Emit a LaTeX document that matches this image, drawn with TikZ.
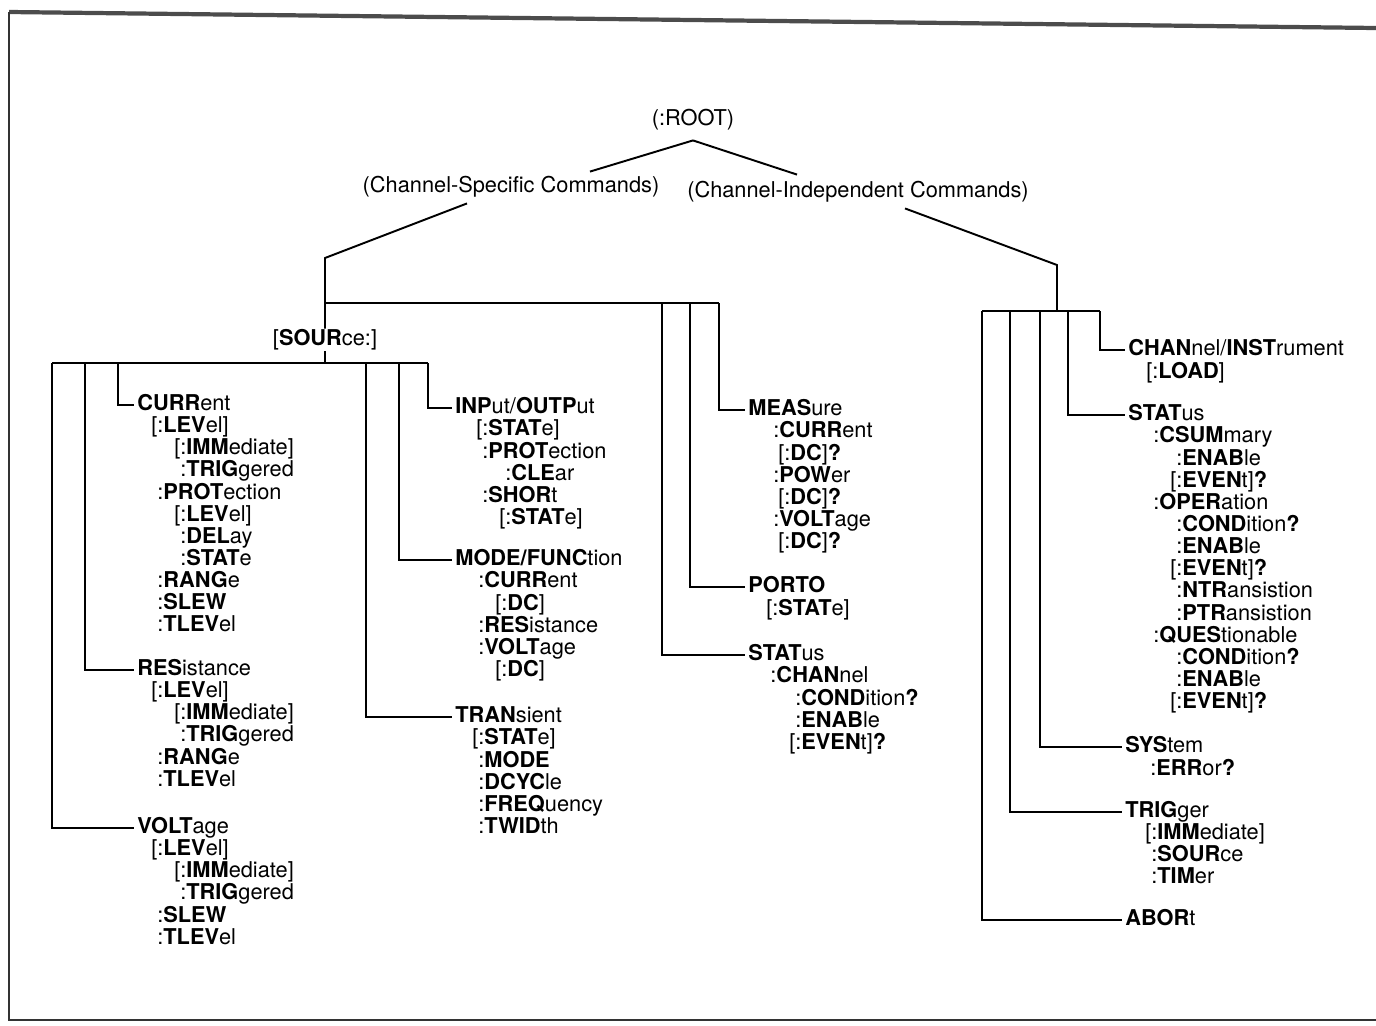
\documentclass[tikz,border=0pt]{standalone}
\usepackage{fontspec}
\setmainfont{TeX Gyre Heros}
\usetikzlibrary{positioning}

\newcommand\lbr{\llap{[}}
\newcommand\ind[1][0.46cm]{\hspace*{#1}}

\begin{document}
\begin{tikzpicture}[x=0.02cm, y=-0.02cm,
  every node/.style={font=\fontsize{12.4}{12.6}\selectfont, inner sep=0pt},
  title/.style={text height=9.6pt, text depth=3pt},
  cmd/.style={anchor=west, text height=9.6pt, text depth=3pt},
  sub/.style={align=left, execute at begin node=\rule{0pt}{9.6pt}},
  wire/.style={line width=1.1pt},
  branch/.style={wire, shorten >=1.5pt}]

\useasboundingbox (0,0) rectangle (1376,1025);
% frame
\draw[line width=2.4pt, black!70] (9,12) -- (1376,28);
\draw[line width=1.6pt, black!80] (9,12) -- (9,1020) -- (1376,1020);

% root
\node[title] (root) at (693,120) {(:ROOT)};
\node[title] (csc) at (511,187) {(Channel-Specific Commands)};
\node[title] (cic) at (858,192) {(Channel-Independent Commands)};
\draw[wire] ([yshift=-0.18cm]root.south) -- ([xshift=1.58cm,yshift=0.08cm]csc.north);
\draw[wire] ([yshift=-0.18cm]root.south) -- ([xshift=-1.22cm,yshift=0.12cm]cic.north);

% channel-specific
\coordinate (sk) at (325,258);
\coordinate (sh) at (325,303);
\coordinate (mc1) at (662,303);
\coordinate (mc2) at (690,303);
\coordinate (mc3) at (719,303);
\node[title] (src) at (325,340) {[\textbf{SOUR}ce:]};
\draw[wire] ([xshift=-0.88cm,yshift=-0.1cm]csc.south) -- (sk) -- (src.north);
\draw[wire] (sh) -- (mc3);

\coordinate (sj) at (325,363);
\coordinate (lc1) at (52,363);
\coordinate (lc2) at (85,363);
\coordinate (lc3) at (118,363);
\coordinate (lc4) at (366,363);
\coordinate (lc5) at (399,363);
\coordinate (lc6) at (428,363);
\draw[wire] (src.south) -- (sj);
\draw[wire] (lc1) -- (lc6);

\node[cmd] (curr) at (137,405) {\textbf{CURR}ent};
\node[sub, below right=0pt and 0.4cm of curr.south west] (currsub) {\lbr:\textbf{LEV}el]\\
  \ind\lbr:\textbf{IMM}ediate]\\
  \ind:\textbf{TRIG}gered\\
  :\textbf{PROT}ection\\
  \ind\lbr:\textbf{LEV}el]\\
  \ind:\textbf{DEL}ay\\
  \ind:\textbf{STAT}e\\
  :\textbf{RANG}e\\
  :\textbf{SLEW}\\
  :\textbf{TLEV}el};
\node[cmd] (res) at (137,670) {\textbf{RES}istance};
\node[sub, below right=0pt and 0.4cm of res.south west] (ressub) {\lbr:\textbf{LEV}el]\\
  \ind\lbr:\textbf{IMM}ediate]\\
  \ind:\textbf{TRIG}gered\\
  :\textbf{RANG}e\\
  :\textbf{TLEV}el};
\node[cmd] (volt) at (137,828) {\textbf{VOLT}age};
\node[sub, below right=0pt and 0.4cm of volt.south west] (voltsub) {\lbr:\textbf{LEV}el]\\
  \ind\lbr:\textbf{IMM}ediate]\\
  \ind:\textbf{TRIG}gered\\
  :\textbf{SLEW}\\
  :\textbf{TLEV}el};
\node[cmd] (inp) at (455,408) {\textbf{INP}ut/\textbf{OUTP}ut};
\node[sub, below right=0pt and 0.54cm of inp.south west] (inpsub) {\lbr:\textbf{STAT}e]\\
  :\textbf{PROT}ection\\
  \ind:\textbf{CLE}ar\\
  :\textbf{SHOR}t\\
  \ind\lbr:\textbf{STAT}e]};
\node[cmd] (mode) at (455,560) {\textbf{MODE/FUNC}tion};
\node[sub, below right=0pt and 0.46cm of mode.south west] (modesub) {:\textbf{CURR}ent\\
  \ind\lbr:\textbf{DC}]\\
  :\textbf{RES}istance\\
  :\textbf{VOLT}age\\
  \ind\lbr:\textbf{DC}]};
\node[cmd] (tran) at (455,717) {\textbf{TRAN}sient};
\node[sub, below right=0pt and 0.46cm of tran.south west] (transub) {\lbr:\textbf{STAT}e]\\
  :\textbf{MODE}\\
  :\textbf{DCYC}le\\
  :\textbf{FREQ}uency\\
  :\textbf{TWID}th};
\draw[branch] (lc1) |- (volt.west);
\draw[branch] (lc2) |- (res.west);
\draw[branch] (lc3) |- (curr.west);
\draw[branch] (lc4) |- (tran.west);
\draw[branch] (lc5) |- (mode.west);
\draw[branch] (lc6) |- (inp.west);

\node[cmd] (meas) at (748,410) {\textbf{MEAS}ure};
\node[sub, below right=0pt and 0.5cm of meas.south west] (meassub) {:\textbf{CURR}ent\\
  \ind[0.22cm]\lbr:\textbf{DC}]\textbf{?}\\
  :\textbf{POW}er\\
  \ind[0.22cm]\lbr:\textbf{DC}]\textbf{?}\\
  :\textbf{VOLT}age\\
  \ind[0.22cm]\lbr:\textbf{DC}]\textbf{?}};
\node[cmd] (port) at (748,587) {\textbf{PORTO}};
\node[sub, below right=0pt and 0.48cm of port.south west] (portsub) {\lbr:\textbf{STAT}e]};
\node[cmd] (stat) at (748,655) {\textbf{STAT}us};
\node[sub, below right=0pt and 0.44cm of stat.south west] (statsub) {:\textbf{CHAN}nel\\
  \ind[0.5cm]:\textbf{COND}ition\textbf{?}\\
  \ind[0.5cm]:\textbf{ENAB}le\\
  \ind[0.5cm]\lbr:\textbf{EVEN}t]\textbf{?}};
\draw[branch] (mc1) |- (stat.west);
\draw[branch] (mc2) |- (port.west);
\draw[branch] (mc3) |- (meas.west);

% channel-independent
\coordinate (ik) at (1057,265);
\coordinate (ij) at (1057,311);
\coordinate (rc1) at (982,311);
\coordinate (rc2) at (1010,311);
\coordinate (rc3) at (1040,311);
\coordinate (rc4) at (1068,311);
\coordinate (rc5) at (1100,311);
\draw[wire] ([xshift=0.94cm,yshift=-0.1cm]cic.south) -- (ik) -- (ij);
\draw[wire] (rc1) -- (rc5);

\node[cmd] (chan) at (1128,350) {\textbf{CHAN}nel/\textbf{INST}rument};
\node[sub, below right=0pt and 0.48cm of chan.south west] (chansub) {\lbr:\textbf{LOAD}]};
\node[cmd] (stati) at (1128,415) {\textbf{STAT}us};
\node[sub, below right=0pt and 0.5cm of stati.south west] (statisub) {:\textbf{CSUM}mary\\
  \ind:\textbf{ENAB}le\\
  \ind\lbr:\textbf{EVEN}t]\textbf{?}\\
  :\textbf{OPER}ation\\
  \ind:\textbf{COND}ition\textbf{?}\\
  \ind:\textbf{ENAB}le\\
  \ind\lbr:\textbf{EVEN}t]\textbf{?}\\
  \ind:\textbf{NTR}ansistion\\
  \ind:\textbf{PTR}ansistion\\
  :\textbf{QUES}tionable\\
  \ind:\textbf{COND}ition\textbf{?}\\
  \ind:\textbf{ENAB}le\\
  \ind\lbr:\textbf{EVEN}t]\textbf{?}};
\node[cmd] (sys) at (1125,747) {\textbf{SYS}tem};
\node[sub, below right=0pt and 0.5cm of sys.south west] (syssub) {:\textbf{ERR}or\textbf{?}};
\node[cmd] (trig) at (1125,812) {\textbf{TRIG}ger};
\node[sub, below right=0pt and 0.52cm of trig.south west] (trigsub) {\lbr:\textbf{IMM}ediate]\\
  :\textbf{SOUR}ce\\
  :\textbf{TIM}er};
\node[cmd] (abor) at (1125,920) {\textbf{ABOR}t};
\draw[branch] (rc1) |- (abor.west);
\draw[branch] (rc2) |- (trig.west);
\draw[branch] (rc3) |- (sys.west);
\draw[branch] (rc4) |- (stati.west);
\draw[branch] (rc5) |- (chan.west);
\end{tikzpicture}
\end{document}
